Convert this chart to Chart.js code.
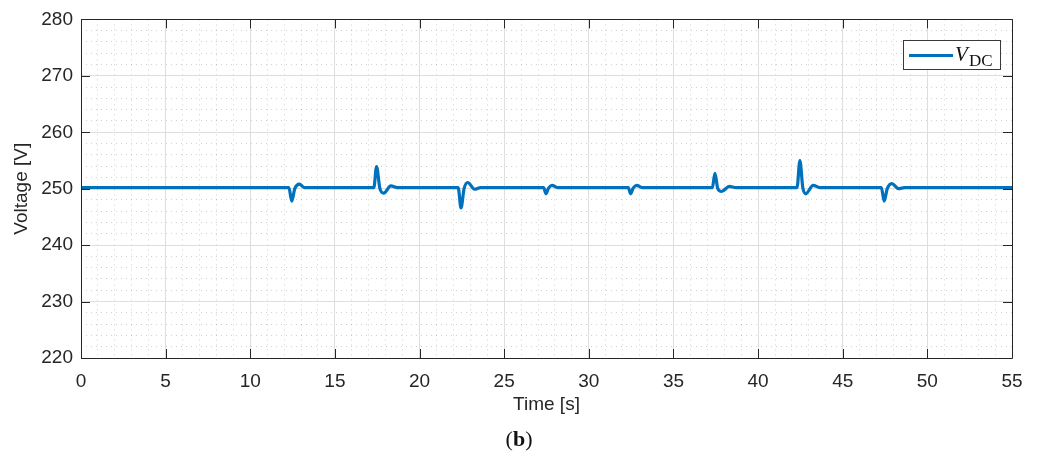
<!DOCTYPE html>
<html>
<head>
<meta charset="utf-8">
<script src="https://cdn.jsdelivr.net/npm/chart.js@4/dist/chart.umd.min.js"></script>
<style>
  html, body { margin: 0; padding: 0; background: #fff; }
  #wrap { position: relative; width: 1038px; height: 464px; }
  #caption {
    position: absolute; left: 0; width: 1038px; top: 426px;
    text-align: center; font-family: "Liberation Serif", serif; font-size: 22px; color: #111;
  }
</style>
</head>
<body>
<div id="wrap">
  <canvas id="vdcChart" width="1038" height="464"></canvas>
  <div id="caption">(<b>b</b>)</div>
</div>
<script>
// DC-link voltage trace
const timeS = [
  0, 12.28, 12.45, 12.63, 12.9, 13.2, 13.5,
  17.3, 17.46, 17.66, 17.88, 18.3, 18.7,
  22.28, 22.45, 22.63, 22.85, 23.25, 23.6,
  27.33, 27.47, 27.62, 27.82, 28.15,
  32.33, 32.47, 32.62, 32.82, 33.15,
  37.3, 37.45, 37.62, 37.84, 38.3, 38.7,
  42.3, 42.47, 42.64, 42.82, 43.25, 43.65,
  47.28, 47.45, 47.63, 47.9, 48.3, 48.65,
  55
];
const voltageV = [
  250.2, 250.2, 247.8, 250.0, 250.8, 250.2, 250.2,
  250.2, 253.9, 250.0, 249.2, 250.5, 250.2,
  250.2, 246.6, 250.0, 251.1, 249.9, 250.2,
  250.2, 249.1, 250.1, 250.6, 250.2,
  250.2, 249.1, 250.1, 250.6, 250.2,
  250.2, 252.7, 250.0, 249.5, 250.4, 250.2,
  250.2, 255.0, 250.2, 249.1, 250.6, 250.2,
  250.2, 247.8, 250.0, 250.9, 250.0, 250.2,
  250.2
];
const xTicks = [0, 5, 10, 15, 20, 25, 30, 35, 40, 45, 50, 55];
const yTicks = [220, 230, 240, 250, 260, 270, 280];

const LINE_BLUE = '#0072BD';
const AXIS_COL = '#262626';
const MAJOR_GRID = '#dedede';
const MINOR_GRID = 'rgba(0,0,0,0.18)';

// box around the plot with inward ticks on all four sides, plus the legend
const framePlugin = {
  id: 'frame',
  afterDatasetsDraw(chart) {
    const ctx = chart.ctx;
    const a = chart.chartArea;
    const xs = chart.scales.x, ys = chart.scales.y;
    const tl = 9;
    ctx.save();
    ctx.strokeStyle = AXIS_COL;
    ctx.lineWidth = 1;
    ctx.beginPath();
    ctx.rect(Math.round(a.left) + 0.5, Math.round(a.top) + 0.5,
             Math.round(a.right - a.left), Math.round(a.bottom - a.top));
    xTicks.forEach(v => {
      const px = Math.round(xs.getPixelForValue(v)) + 0.5;
      ctx.moveTo(px, a.bottom); ctx.lineTo(px, a.bottom - tl);
      ctx.moveTo(px, a.top); ctx.lineTo(px, a.top + tl);
    });
    yTicks.forEach(v => {
      const py = Math.round(ys.getPixelForValue(v)) + 0.5;
      ctx.moveTo(a.left, py); ctx.lineTo(a.left + tl, py);
      ctx.moveTo(a.right, py); ctx.lineTo(a.right - tl, py);
    });
    ctx.stroke();

    // legend
    const bx = 903.5, by = 40.5, bw = 97, bh = 29;
    ctx.fillStyle = '#fff';
    ctx.fillRect(bx, by, bw, bh);
    ctx.strokeStyle = '#3a3a3a';
    ctx.strokeRect(bx, by, bw, bh);
    ctx.strokeStyle = LINE_BLUE;
    ctx.lineWidth = 3;
    ctx.beginPath();
    ctx.moveTo(909, 55.5); ctx.lineTo(953, 55.5);
    ctx.stroke();
    ctx.fillStyle = '#111';
    ctx.textBaseline = 'alphabetic';
    ctx.font = 'italic 21px "Liberation Serif"';
    ctx.fillText('V', 955, 61);
    ctx.font = '17px "Liberation Serif"';
    ctx.fillText('DC', 969, 66);
    ctx.restore();
  }
};

const ctx = document.getElementById('vdcChart').getContext('2d');
new Chart(ctx, {
  type: 'line',
  data: {
    datasets: [{
      label: 'VDC',
      data: timeS.map((t, i) => ({ x: t, y: voltageV[i] })),
      borderColor: LINE_BLUE,
      borderWidth: 3.2,
      pointRadius: 0,
      fill: false,
      cubicInterpolationMode: 'monotone'
    }]
  },
  options: {
    responsive: false,
    devicePixelRatio: 1,
    animation: false,
    layout: { padding: { left: 0, right: 26, top: 18, bottom: 42 } },
    plugins: { legend: { display: false }, tooltip: { enabled: false } },
    scales: {
      xMinor: {
        type: 'linear', position: 'bottom', min: 0, max: 55,
        ticks: { display: false, stepSize: 1 },
        grid: {
          drawTicks: false,
          color: c => (c.tick && c.tick.value % 5 === 0) ? 'rgba(0,0,0,0)' : MINOR_GRID
        },
        border: { display: false, dash: [1, 4] },
        afterFit: s => { s.height = 0; }
      },
      yMinor: {
        type: 'linear', position: 'left', min: 220, max: 280,
        ticks: { display: false, stepSize: 2 },
        grid: {
          drawTicks: false,
          color: c => (c.tick && c.tick.value % 10 === 0) ? 'rgba(0,0,0,0)' : MINOR_GRID
        },
        border: { display: false, dash: [1, 4] },
        afterFit: s => { s.width = 0; }
      },
      x: {
        type: 'linear', position: 'bottom', min: 0, max: 55,
        afterBuildTicks: s => { s.ticks = xTicks.map(v => ({ value: v })); },
        ticks: { color: AXIS_COL, padding: 12, maxRotation: 0,
                 font: { family: '"Liberation Sans", Arial, sans-serif', size: 19 } },
        grid: { color: MAJOR_GRID, drawTicks: false },
        border: { display: false },
        title: { display: true, text: 'Time [s]', color: AXIS_COL,
                 font: { family: '"Liberation Sans", Arial, sans-serif', size: 19 },
                 padding: { top: 0, bottom: 6 } },
        afterFit: s => { s.height = 64; }
      },
      y: {
        type: 'linear', position: 'left', min: 220, max: 280,
        afterBuildTicks: s => { s.ticks = yTicks.map(v => ({ value: v })); },
        ticks: { color: AXIS_COL, padding: 8,
                 font: { family: '"Liberation Sans", Arial, sans-serif', size: 19 } },
        grid: { color: MAJOR_GRID, drawTicks: false },
        border: { display: false },
        title: { display: true, text: 'Voltage [V]', color: AXIS_COL,
                 font: { family: '"Liberation Sans", Arial, sans-serif', size: 19 },
                 padding: { top: 10, bottom: 0 } },
        afterFit: s => { s.width = 81; }
      }
    }
  },
  plugins: [framePlugin]
});
</script>
</body>
</html>
